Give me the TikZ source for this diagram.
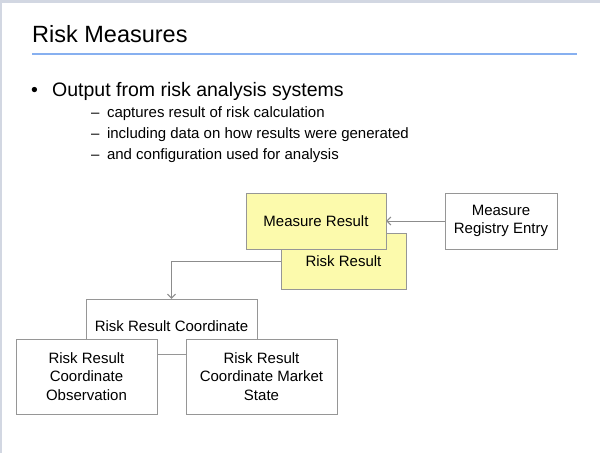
\documentclass[tikz,border=0pt]{standalone}
\usepackage{fontspec}
\setmainfont{Liberation Sans}
\usetikzlibrary{arrows.meta,shadows}
\definecolor{boxyellow}{RGB}{252,250,172}
\definecolor{boxline}{RGB}{150,150,150}
\definecolor{rulebl}{RGB}{135,176,240}
\definecolor{framegray}{RGB}{210,215,226}
\definecolor{linkgray}{RGB}{140,140,140}
\tikzset{
  cls/.style={draw=boxline, fill=white, text=black, align=center,
    font=\fontsize{15}{18.5}\selectfont, inner sep=0pt,
    drop shadow={shadow xshift=1.2pt, shadow yshift=-1.2pt, opacity=0.35}},
  yel/.style={cls, fill=boxyellow},
  link/.style={draw=linkgray, line width=1pt, -{Straight Barb[length=4pt,width=8pt]}},
  sub/.style={anchor=base west, inner sep=0pt, font=\fontsize{15}{18}\selectfont},
}
\begin{document}
\begin{tikzpicture}[x=1pt,y=-1pt]
  \useasboundingbox (0,0) rectangle (600,453);
  % slide frame
  \fill[framegray] (0,0) rectangle (600,3);
  \fill[framegray] (0,0) rectangle (2,453);

  % title
  \node[anchor=base west, font=\fontsize{23.5}{28}\selectfont, inner sep=0pt] (title) at (32,42) {Risk Measures};
  \draw[rulebl, line width=1.3pt] (32,54) -- (577,54);

  % bullets
  \node[anchor=base west, font=\fontsize{19.5}{23}\selectfont, inner sep=0pt] (dot) at (31,96) {•};
  \node[anchor=base west, font=\fontsize{19.5}{23}\selectfont, inner sep=0pt] (pt) at (52,96) {Output from risk analysis systems};
  \node[sub] (s1) at (91,117) {–\hspace{7.5pt}captures result of risk calculation};
  \node[sub] (s2) at (91,138) {–\hspace{7.5pt}including data on how results were generated};
  \node[sub] (s3) at (91,159) {–\hspace{7.5pt}and configuration used for analysis};

  % classes
  \node[yel, minimum width=125pt, minimum height=56pt] (rres) at (343.5,261) {Risk Result};
  \node[yel, minimum width=140pt, minimum height=56pt] (mres) at (316,221) {Measure Result};
  \node[cls, minimum width=112pt, minimum height=56pt] (reg) at (501,221) {Measure\\Registry Entry};
  \node[cls, minimum width=171pt, minimum height=55pt] (coord) at (171.5,326.5) {Risk Result Coordinate};
  \node[cls, minimum width=141pt, minimum height=75pt] (obs) at (86.5,376.5) {Risk Result\\Coordinate\\Observation};
  \node[cls, minimum width=151pt, minimum height=75pt] (mkt) at (261.5,376.5) {Risk Result\\Coordinate Market\\State};

  % links
  \draw[link] (reg.west) -- (mres.east);
  \draw[link] (rres.west) -| (coord.north);
\end{tikzpicture}
\end{document}
